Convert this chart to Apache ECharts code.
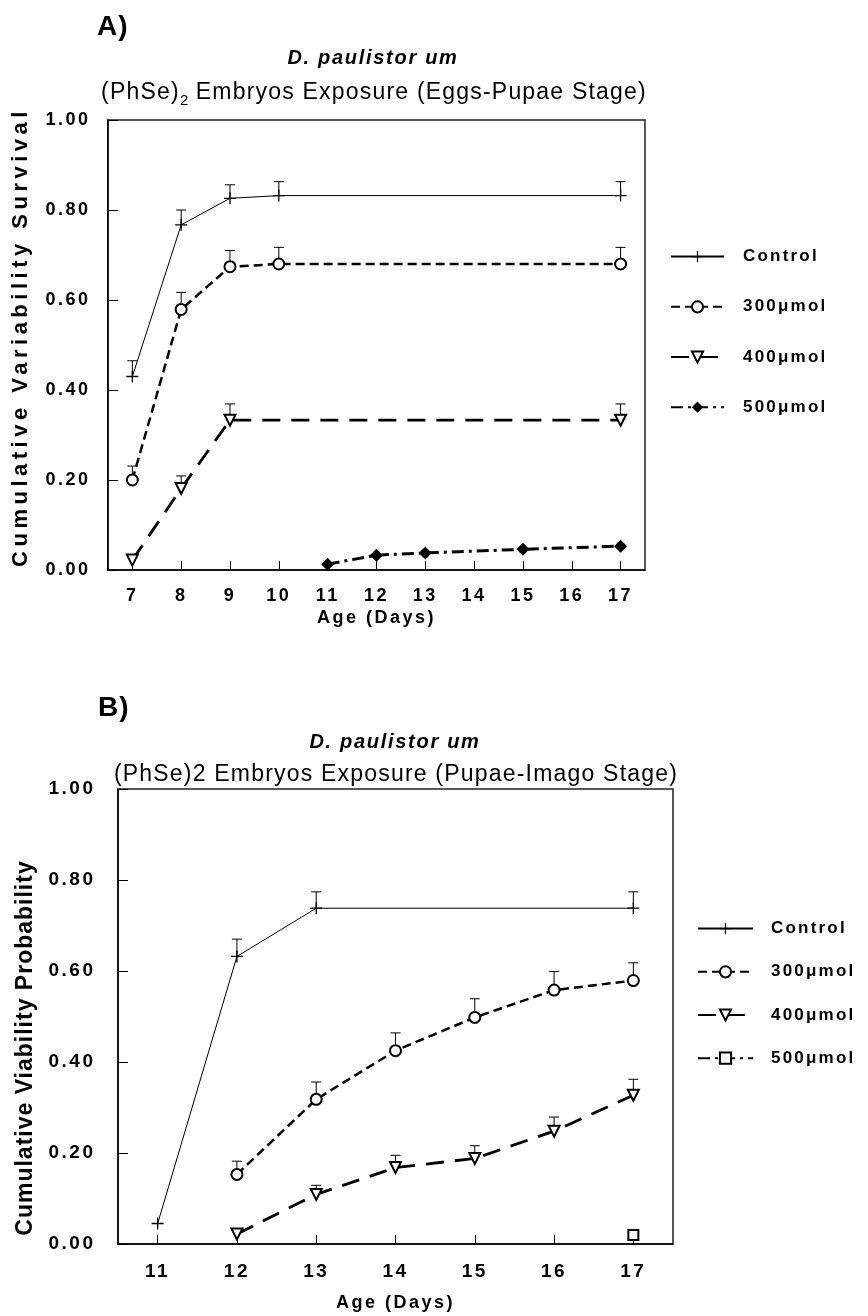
<!DOCTYPE html>
<html>
<head>
<meta charset="utf-8">
<script src="https://cdn.jsdelivr.net/npm/echarts@6/dist/echarts.min.js"></script>
<style>
html,body{margin:0;padding:0;background:#fff;}
#c{width:868px;height:1316px;}
</style>
</head>
<body>
<div id="c"></div>
<script>
// ---------------- data ----------------
const SERIES_NAMES = ['Control', '300μmol', '400μmol', '500μmol'];

const DAYS_A = ['7', '8', '9', '10', '11', '12', '13', '14', '15', '16', '17'];
const A_CONTROL_DAYS = ['7', '8', '9', '10', '17'];
const A_CONTROL = [0.430, 0.767, 0.826, 0.832, 0.832];
const A_CONTROL_ERR = [0.465, 0.800, 0.856, 0.863, 0.863];
const A_300_DAYS = ['7', '8', '9', '10', '17'];
const A_300 = [0.200, 0.579, 0.674, 0.680, 0.680];
const A_300_ERR = [0.231, 0.617, 0.710, 0.717, 0.717];
const A_400_DAYS = ['7', '8', '9', '17'];
const A_400 = [0.022, 0.181, 0.333, 0.333];
const A_400_ERR = [null, 0.209, 0.369, 0.369];
const A_500_DAYS = ['11', '12', '13', '15', '17'];
const A_500 = [0.013, 0.033, 0.038, 0.046, 0.053];

const DAYS_B = ['11', '12', '13', '14', '15', '16', '17'];
const B_CONTROL_DAYS = ['11', '12', '13', '17'];
const B_CONTROL = [0.045, 0.632, 0.738, 0.738];
const B_CONTROL_ERR = [null, 0.670, 0.774, 0.774];
const B_300_DAYS = ['12', '13', '14', '15', '16', '17'];
const B_300 = [0.153, 0.318, 0.425, 0.498, 0.558, 0.579];
const B_300_ERR = [0.182, 0.356, 0.464, 0.539, 0.599, 0.618];
const B_400_DAYS = ['12', '13', '14', '15', '16', '17'];
const B_400 = [0.022, 0.109, 0.168, 0.188, 0.248, 0.327];
const B_400_ERR = [null, 0.129, 0.195, 0.216, 0.279, 0.362];
const B_500_DAYS = ['17'];
const B_500 = [0.020];

const Y_TICKS = { min: 0, max: 1, step: 0.2 };

// ---------------- text spacing (mimic spaced glyphs of the original) ----------------
const SPACING = { 'b17': 2.2, 'b18': 2.5, 'b19': 2.5, 'b22': 4.5, 'b23': 1, 'ib20': 1.7, 'n23': 1.2, 'b28': 1 };
function fontKey(font) {
  const m = /(\d+(?:\.\d+)?)px/.exec(font || '');
  if (!m) return '';
  const it = /italic|oblique/.test(font) ? 'i' : '';
  const bd = /\bbold\b|\b[6-9]00\b/.test(font) ? 'b' : 'n';
  return it + bd + Math.round(+m[1]);
}
(function () {
  const P = CanvasRenderingContext2D.prototype;
  if (!('letterSpacing' in P)) return;
  ['fillText', 'strokeText', 'measureText'].forEach(fn => {
    const orig = P[fn];
    P[fn] = function () {
      const s = SPACING[fontKey(this.font)] || 0;
      this.letterSpacing = s + 'px';
      return orig.apply(this, arguments);
    };
  });
})();

// ---------------- helpers ----------------
const FF = 'Liberation Sans';
const BLACK = '#000';
const pairs = (days, vals) => days.map((d, i) => [d, vals[i]]);
const errPairs = (days, vals, tops) => days.map((d, i) => tops[i] == null ? null : [d, vals[i], tops[i]]).filter(Boolean);

const PLUS = 'path://M0,4.45H10V5.55H0Z M4.45,0H5.55V10H4.45Z';

const STYLE = {
  'Control': { symbol: PLUS, size: 12, rotate: 0, line: { width: 1, type: 'solid' } },
  '300μmol': { symbol: 'emptyCircle', size: 11, rotate: 0, line: { width: 2.5, type: [9, 5] } },
  '400μmol': { symbol: 'emptyTriangle', size: 11, rotate: 180, line: { width: 2.8, type: [18, 11] } },
  '500μmolA': { symbol: 'diamond', size: 13, rotate: 0, line: { width: 3, type: [12, 5, 3, 5] } },
  '500μmolB': { symbol: 'emptyRect', size: 10, rotate: 0, line: { width: 3, type: [12, 5, 3, 5] } }
};

function lineSeries(name, key, idx, days, vals, suffix) {
  const st = STYLE[key];
  return {
    type: 'line', name: name + suffix, xAxisIndex: idx, yAxisIndex: idx,
    data: pairs(days, vals), symbol: st.symbol, symbolSize: st.size, symbolRotate: st.rotate,
    showSymbol: true, z: 3,
    lineStyle: { color: BLACK, width: st.line.width, type: st.line.type },
    itemStyle: { color: BLACK, borderColor: BLACK, borderWidth: st.symbol.indexOf('empty') === 0 ? 1.3 : 0 },
    emphasis: { disabled: true }, animation: false
  };
}

function errSeries(idx, data) {
  return {
    type: 'custom', name: 'err' + idx, xAxisIndex: idx, yAxisIndex: idx, z: 2,
    dimensions: ['day', 'v', 'top'], encode: { x: 0, y: 1 },
    data: data, animation: false, silent: true,
    renderItem: function (params, api) {
      const x = api.value(0);
      const p0 = api.coord([x, api.value(1)]);
      const p1 = api.coord([x, api.value(2)]);
      const s = { stroke: BLACK, lineWidth: 1 };
      return {
        type: 'group', children: [
          { type: 'line', shape: { x1: p0[0], y1: p0[1], x2: p1[0], y2: p1[1] }, style: s },
          { type: 'line', shape: { x1: p1[0] - 5, y1: p1[1], x2: p1[0] + 5, y2: p1[1] }, style: s }
        ]
      };
    }
  };
}

const boldFont = size => ({ color: BLACK, fontFamily: FF, fontWeight: 'bold', fontSize: size });

function xAxis(idx, cats, labelSize, labelMargin, nameGap) {
  return {
    gridIndex: idx, type: 'category', data: cats, boundaryGap: true,
    axisLine: { show: true, lineStyle: { color: BLACK, width: 1.5 } },
    axisTick: { show: true, inside: true, alignWithLabel: true, interval: 0, length: 9, lineStyle: { color: BLACK, width: 1 } },
    axisLabel: Object.assign({ interval: 0, margin: labelMargin }, boldFont(labelSize)),
    splitLine: { show: false },
    name: 'Age (Days)', nameLocation: 'middle', nameGap: nameGap,
    nameTextStyle: boldFont(18)
  };
}

function yAxis(idx, name, labelMargin, labelSize, nameGap, nameSize, namePad) {
  return {
    gridIndex: idx, type: 'value', min: Y_TICKS.min, max: Y_TICKS.max, interval: Y_TICKS.step,
    axisLine: { show: true, lineStyle: { color: BLACK, width: 1.5 } },
    axisTick: { show: true, inside: true, length: 10, lineStyle: { color: BLACK, width: 1 } },
    axisLabel: Object.assign({ margin: labelMargin, formatter: v => v.toFixed(2) }, boldFont(labelSize)),
    splitLine: { show: false },
    name: name, nameLocation: 'middle', nameGap: nameGap,
    nameTextStyle: Object.assign({ padding: namePad }, boldFont(nameSize))
  };
}

function legend(left, top, itemWidth, gap, textPad, suffix) {
  return {
    orient: 'vertical', left: left, top: top, padding: 0,
    itemWidth: itemWidth, itemHeight: 14, itemGap: gap, selectedMode: false,
    data: SERIES_NAMES.map(n => n + suffix),
    formatter: n => n.trim(),
    textStyle: { color: BLACK, fontFamily: FF, fontWeight: 'bold', fontSize: 17, lineHeight: 14, padding: [0, 0, 0, textPad] }
  };
}

const titleBase = (text, left, top, size, weight, style, align) => ({
  text: text, left: left, top: top, padding: 0, textAlign: align || 'left',
  textStyle: { color: BLACK, fontFamily: FF, fontSize: size, fontWeight: weight, fontStyle: style || 'normal', lineHeight: size + 4 }
});

const subA = {
  text: '{m|(PhSe)}{s|2}{m| Embryos Exposure (Eggs-Pupae Stage)}',
  left: 374, top: 78, padding: 0, textAlign: 'center',
  textStyle: {
    color: BLACK, fontFamily: FF, fontSize: 23, fontWeight: 'normal',
    rich: {
      m: { color: BLACK, fontFamily: FF, fontSize: 23, lineHeight: 30, verticalAlign: 'middle' },
      s: { color: BLACK, fontFamily: FF, fontSize: 15, lineHeight: 15, verticalAlign: 'bottom' }
    }
  }
};

const option = {
  backgroundColor: '#fff',
  animation: false,
  title: [
    titleBase('A)', 97, 11, 28, 'bold'),
    titleBase('D. paulistor um', 373, 46, 20, 'bold', 'italic', 'center'),
    subA,
    titleBase('B)', 98, 692, 28, 'bold'),
    titleBase('D. paulistor um', 395, 730, 20, 'bold', 'italic', 'center'),
    titleBase('(PhSe)2 Embryos Exposure (Pupae-Imago Stage)', 396, 761, 23, 'normal', 'normal', 'center')
  ],
  grid: [
    { left: 102, top: 120, width: 543, height: 450, show: true, borderColor: '#222', borderWidth: 1.5, backgroundColor: 'transparent', containLabel: false },
    { left: 118, top: 789, width: 555, height: 455, show: true, borderColor: '#222', borderWidth: 1.5, backgroundColor: 'transparent', containLabel: false }
  ],
  xAxis: [xAxis(0, DAYS_A, 18, 16, 37), xAxis(1, DAYS_B, 19, 17, 49)],
  yAxis: [
    yAxis(0, 'Cumulative Variability Survival', 17.5, 18, 69, 22, [0, 0, 0, 16]),
    yAxis(1, 'Cumulative Viability Probability', 22.5, 19, 80, 23, [0, 63, 0, 0])
  ],
  legend: [
    legend(670, 247, 53, 31, 14, ''),
    legend(697, 919, 55, 24, 13, ' ')
  ],
  series: [
    errSeries(0, [].concat(
      errPairs(A_CONTROL_DAYS, A_CONTROL, A_CONTROL_ERR),
      errPairs(A_300_DAYS, A_300, A_300_ERR),
      errPairs(A_400_DAYS, A_400, A_400_ERR))),
    lineSeries('Control', 'Control', 0, A_CONTROL_DAYS, A_CONTROL, ''),
    lineSeries('300μmol', '300μmol', 0, A_300_DAYS, A_300, ''),
    lineSeries('400μmol', '400μmol', 0, A_400_DAYS, A_400, ''),
    lineSeries('500μmol', '500μmolA', 0, A_500_DAYS, A_500, ''),
    errSeries(1, [].concat(
      errPairs(B_CONTROL_DAYS, B_CONTROL, B_CONTROL_ERR),
      errPairs(B_300_DAYS, B_300, B_300_ERR),
      errPairs(B_400_DAYS, B_400, B_400_ERR))),
    lineSeries('Control', 'Control', 1, B_CONTROL_DAYS, B_CONTROL, ' '),
    lineSeries('300μmol', '300μmol', 1, B_300_DAYS, B_300, ' '),
    lineSeries('400μmol', '400μmol', 1, B_400_DAYS, B_400, ' '),
    lineSeries('500μmol', '500μmolB', 1, B_500_DAYS, B_500, ' ')
  ]
};

const chart = echarts.init(document.getElementById('c'), null, { renderer: 'canvas', width: 868, height: 1316 });
chart.setOption(option);
</script>
</body>
</html>
